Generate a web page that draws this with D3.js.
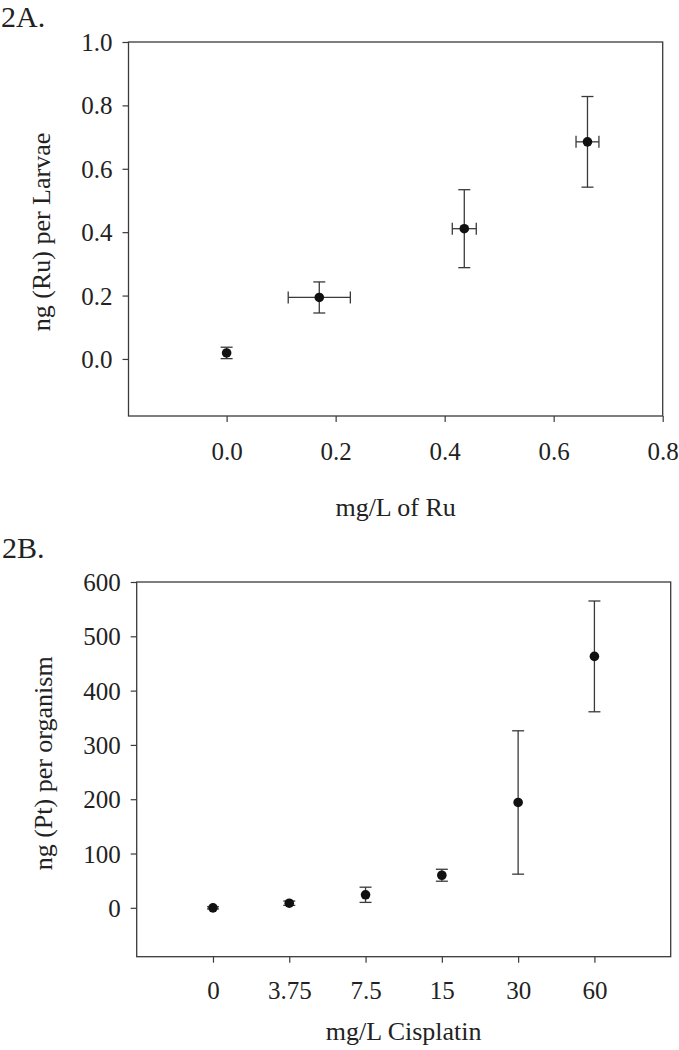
<!DOCTYPE html>
<html><head><meta charset="utf-8">
<script src="https://cdn.jsdelivr.net/npm/d3@7"></script>
<style>body{margin:0;background:#fff}svg{display:block}</style>
</head><body>
<script>
// Panel A data
const ruConc = [0.0, 0.17, 0.436, 0.662];
const ruConcErr = [0.0, 0.057, 0.022, 0.021];
const ruAmount = [0.019, 0.194, 0.411, 0.685];
const ruAmountErr = [0.018, 0.049, 0.123, 0.143];
const ruXTicks = [0.0, 0.2, 0.4, 0.6, 0.8];
const ruYTicks = [0.0, 0.2, 0.4, 0.6, 0.8, 1.0];
// Panel B data
const cisCategories = ["0", "3.75", "7.5", "15", "30", "60"];
const ptAmount = [0, 8.5, 24, 60, 194, 463];
const ptAmountErr = [2, 4, 14, 11, 132, 102];
const ptYTicks = [0, 100, 200, 300, 400, 500, 600];

const W = 679, H = 1050;
const FONT = "'Liberation Serif', 'Times New Roman', serif";
const LINE = "#3a3a3a";
const svg = d3.select("body").append("svg").attr("width", W).attr("height", H)
  .style("font-family", FONT);

function styleAxis(g) {
  g.select(".domain").remove();
  g.selectAll(".tick line").attr("stroke", LINE).attr("stroke-width", 1.2);
  g.selectAll(".tick text").attr("fill", "#222").style("font-size", "25px").style("font-family", FONT);
}

function frame(box) {
  svg.append("rect").attr("x", box.l).attr("y", box.t)
    .attr("width", box.r - box.l).attr("height", box.b - box.t)
    .attr("fill", "none").attr("stroke", LINE).attr("stroke-width", 1.3);
}

// ---------- Panel A ----------
const A = {l: 128.5, r: 662.7, t: 42, b: 416};
const xA = d3.scaleLinear().domain([-0.18, 0.8]).range([A.l, A.r]);
const yA = d3.scaleLinear().domain([-0.18, 1.0]).range([A.b, A.t]);

const gxA = svg.append("g").attr("transform", `translate(0,${A.b})`)
  .call(d3.axisBottom(xA).tickValues(ruXTicks).tickFormat(d3.format(".1f")).tickSizeOuter(0).tickSize(6));
styleAxis(gxA);
gxA.selectAll(".tick text").attr("y", 44).attr("dy", 0);

const gyA = svg.append("g").attr("transform", `translate(${A.l},0)`)
  .call(d3.axisLeft(yA).tickValues(ruYTicks).tickFormat(d3.format(".1f")).tickSizeOuter(0).tickSize(6));
styleAxis(gyA);
gyA.selectAll(".tick text").attr("x", -16).attr("dy", "0.34em");

frame(A);

const capA = 6;
const ptsA = ruConc.map((x, i) => ({x, y: ruAmount[i], ex: ruConcErr[i], ey: ruAmountErr[i]}));
const eA = svg.append("g").attr("stroke", LINE).attr("stroke-width", 1.3).attr("fill", "none");
ptsA.forEach(p => {
  const cx = xA(p.x), cy = yA(p.y);
  const y1 = yA(p.y + p.ey), y2 = yA(p.y - p.ey);
  eA.append("line").attr("x1", cx).attr("x2", cx).attr("y1", y1).attr("y2", y2);
  eA.append("line").attr("x1", cx - capA).attr("x2", cx + capA).attr("y1", y1).attr("y2", y1);
  eA.append("line").attr("x1", cx - capA).attr("x2", cx + capA).attr("y1", y2).attr("y2", y2);
  if (p.ex > 0) {
    const x1 = xA(p.x - p.ex), x2 = xA(p.x + p.ex);
    eA.append("line").attr("x1", x1).attr("x2", x2).attr("y1", cy).attr("y2", cy);
    eA.append("line").attr("x1", x1).attr("x2", x1).attr("y1", cy - capA).attr("y2", cy + capA);
    eA.append("line").attr("x1", x2).attr("x2", x2).attr("y1", cy - capA).attr("y2", cy + capA);
  }
});
svg.append("g").selectAll("circle").data(ptsA).join("circle")
  .attr("cx", d => xA(d.x)).attr("cy", d => yA(d.y)).attr("r", 4.8).attr("fill", "#111");

svg.append("text").attr("x", (A.l + A.r) / 2).attr("y", 516).attr("text-anchor", "middle")
  .style("font-size", "26px").attr("fill", "#222").text("mg/L of Ru");
svg.append("text").attr("transform", `translate(50,${(A.t + A.b) / 2 + 3}) rotate(-90)`)
  .attr("text-anchor", "middle").style("font-size", "26px").attr("fill", "#222").text("ng (Ru) per Larvae");
svg.append("text").attr("x", 1).attr("y", 27).style("font-size", "30px").attr("fill", "#222").text("2A.");

// ---------- Panel B ----------
const B = {l: 136.7, r: 670.7, t: 582, b: 956.7};
const xB = d3.scalePoint().domain(cisCategories).range([B.l, B.r]).padding(1);
const yB = d3.scaleLinear().domain([-90, 600]).range([B.b, B.t]);

const gxB = svg.append("g").attr("transform", `translate(0,${B.b})`)
  .call(d3.axisBottom(xB).tickSizeOuter(0).tickSize(6));
styleAxis(gxB);
gxB.selectAll(".tick text").attr("y", 42.5).attr("dy", 0);

const gyB = svg.append("g").attr("transform", `translate(${B.l},0)`)
  .call(d3.axisLeft(yB).tickValues(ptYTicks).tickFormat(d3.format("d")).tickSizeOuter(0).tickSize(6));
styleAxis(gyB);
gyB.selectAll(".tick text").attr("x", -16).attr("dy", "0.34em");

frame(B);

const capB = 6;
const ptsB = cisCategories.map((c, i) => ({c, y: ptAmount[i], ey: ptAmountErr[i]}));
const eB = svg.append("g").attr("stroke", LINE).attr("stroke-width", 1.3).attr("fill", "none");
ptsB.forEach(p => {
  const cx = xB(p.c);
  const y1 = yB(p.y + p.ey), y2 = yB(p.y - p.ey);
  eB.append("line").attr("x1", cx).attr("x2", cx).attr("y1", y1).attr("y2", y2);
  eB.append("line").attr("x1", cx - capB).attr("x2", cx + capB).attr("y1", y1).attr("y2", y1);
  eB.append("line").attr("x1", cx - capB).attr("x2", cx + capB).attr("y1", y2).attr("y2", y2);
});
svg.append("g").selectAll("circle").data(ptsB).join("circle")
  .attr("cx", d => xB(d.c)).attr("cy", d => yB(d.y)).attr("r", 4.8).attr("fill", "#111");

svg.append("text").attr("x", (B.l + B.r) / 2).attr("y", 1040).attr("text-anchor", "middle")
  .style("font-size", "26px").attr("fill", "#222").text("mg/L Cisplatin");
svg.append("text").attr("transform", `translate(52,${(B.t + B.b) / 2 - 6}) rotate(-90)`)
  .attr("text-anchor", "middle").style("font-size", "26px").attr("fill", "#222").text("ng (Pt) per organism");
svg.append("text").attr("x", 2).attr("y", 558).style("font-size", "30px").attr("fill", "#222").text("2B.");
</script>
</body></html>
